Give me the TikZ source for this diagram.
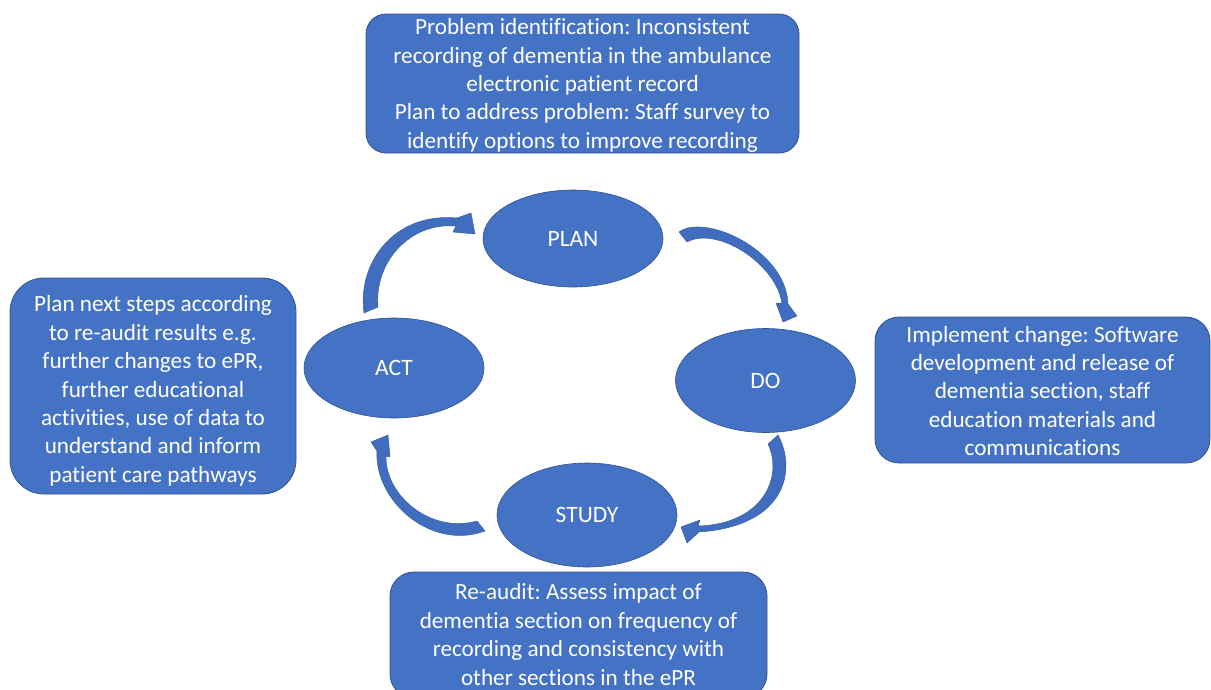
\documentclass[tikz,border=0pt]{standalone}
\usepackage{fontspec}
\setmainfont{Carlito}[Ligatures=NoCommon]
\usetikzlibrary{shapes.geometric}
\definecolor{pdsafill}{HTML}{4472C4}
\definecolor{pdsaline}{HTML}{2F528F}
\definecolor{arrowfill}{HTML}{416DBE}
\definecolor{arrowline}{HTML}{3860A8}
\frenchspacing
\begin{document}
\begin{tikzpicture}[x=1pt,y=-1pt,
  boxshape/.style={draw=pdsaline, line width=0.8pt, fill=pdsafill},
  boxtext/.style={text=white, align=center, inner sep=0pt, font=\fontsize{23.2}{28.4}\selectfont},
  phase/.style={ellipse, draw=pdsaline, line width=0.6pt, fill=pdsafill, text=white,
    inner sep=0pt, minimum width=180pt, font=\fontsize{23.5}{28}\selectfont},
  cyclearrow/.style={fill=arrowfill, draw=arrowline, line width=0.5pt, line join=round}]
\useasboundingbox (0,0) rectangle (1211,689);

% information boxes
\draw[boxshape, rounded corners=20pt] (366,14) rectangle (799,153);
\node[boxtext] (problem) at (582.5,85.5)
  {Problem identification: Inconsistent\\recording of dementia in the ambulance\\electronic patient record\\Plan to address problem: Staff survey to\\identify options to improve recording};
\draw[boxshape, rounded corners=34pt] (10,278) rectangle (296,494);
\node[boxtext] (nextsteps) at (153,391)
  {Plan next steps according\\to re-audit results e.g.\\further changes to ePR,\\further educational\\activities, use of data to\\understand and inform\\patient care pathways};
\draw[boxshape, rounded corners=24pt] (875,317) rectangle (1210,463);
\node[boxtext] (implement) at (1042.5,391)
  {Implement change: Software\\development and release of\\dementia section, staff\\education materials and\\communications};
\draw[boxshape, rounded corners=24pt] (390,572) rectangle (767,698);
\node[boxtext] (reaudit) at (578.5,634.5)
  {Re-audit: Assess impact of\\dementia section on frequency of\\recording and consistency with\\other sections in the ePR};

% PDSA cycle phases
\node[phase, minimum height=97pt] (plan) at (573,238.5) {PLAN};
\node[phase, minimum height=100pt] (act) at (394,368) {ACT};
\node[phase, minimum height=104pt] (do) at (765.5,380.5) {DO};
\node[phase, minimum height=104pt] (study) at (587,515) {STUDY};

% curved block arrows: ACT -> PLAN
\path[cyclearrow] (364,313) .. controls (357,262) and (395,212) .. (457,218)
  -- (471,213) -- (475,234) -- (453,232) -- (456,226)
  .. controls (410,222) and (374,262) .. (378,307) -- cycle;
% PLAN -> DO
\path[cyclearrow] (679,232) .. controls (705,213) and (786,250) .. (788,304)
  -- (797,316) -- (783,322) -- (776,303) -- (782,303)
  .. controls (775,262) and (716,226) .. (687,242) -- cycle;
% DO -> STUDY
\path[cyclearrow] (778,435) .. controls (797,470) and (786,526) .. (699,532)
  -- (687,543) -- (681,527) -- (700,520) -- (698,526)
  .. controls (765,524) and (783,475) .. (768,444) -- cycle;
% STUDY -> ACT
\path[cyclearrow] (485,531) .. controls (430,551) and (374,500) .. (377,451)
  -- (371,442) -- (388,435) -- (390,457) -- (386,456)
  .. controls (385,495) and (430,534) .. (477,521) -- cycle;
\end{tikzpicture}
\end{document}
